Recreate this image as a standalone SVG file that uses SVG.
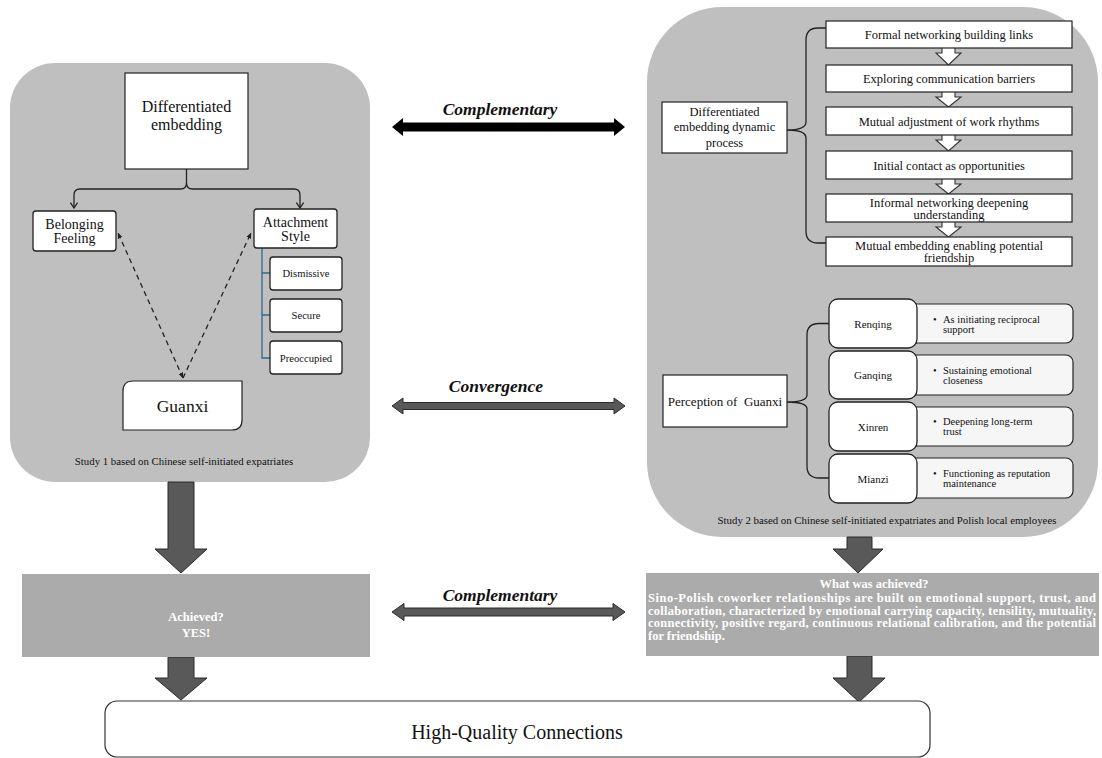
<svg xmlns="http://www.w3.org/2000/svg" width="1102" height="758" viewBox="0 0 1102 758">
<defs>
<style>
text{font-family:"Liberation Serif","Times New Roman",serif;fill:#111}
.panel{fill:#bfbfbf}
.box{fill:#fff;stroke:#222;stroke-width:1.2}
.rbox{fill:#fff;stroke:#222;stroke-width:1.3}
.desc{fill:#f6f6f6;stroke:#222;stroke-width:1.2}
.ln{fill:none;stroke:#222;stroke-width:1.3}
.dash{fill:none;stroke:#222;stroke-width:1.3;stroke-dasharray:5 4}
.blk{fill:#595959;stroke:#2a2a2a;stroke-width:1}
.hol{fill:#fff;stroke:#333;stroke-width:1.1}
.ach{fill:#ababab}
.wt{fill:#fff;font-weight:bold;font-size:12.5px}
.lbl{font-weight:bold;font-style:italic;font-size:17.5px}
.c{text-anchor:middle}
</style>
<marker id="ah" viewBox="0 0 10 10" refX="9" refY="5" markerWidth="6" markerHeight="6" orient="auto-start-reverse" markerUnits="userSpaceOnUse">
<path d="M0,1 L10,5 L0,9 Z" fill="#222"/>
</marker>
<marker id="ov" viewBox="0 0 10 10" refX="5" refY="9" markerWidth="9" markerHeight="9" orient="0" markerUnits="userSpaceOnUse">
<path d="M1,3 L5,9 L9,3" fill="none" stroke="#222" stroke-width="1.4"/>
</marker>
</defs>
<rect width="1102" height="758" fill="#fff"/>

<g id="study1-panel">
<rect class="panel" x="10" y="63" width="360" height="419" rx="45"/>
<text class="c" x="184" y="465" font-size="10.8">Study 1 based on Chinese self-initiated expatriates</text>
</g>
<g id="study2-panel">
<rect class="panel" x="647" y="7" width="451" height="530" rx="75"/>
<text class="c" x="887" y="524" font-size="10.8">Study 2 based on Chinese self-initiated expatriates and Polish local employees</text>
</g>

<g id="connectors">
<path class="ln" d="M186.5,169 V183 Q186.5,189 180.5,189 H80 Q74,189 74,195 V208" marker-end="url(#ov)"/>
<path class="ln" d="M186.5,183 Q186.5,189 192.5,189 H294 Q300,189 300,195 V208" marker-end="url(#ov)"/>
<path class="dash" d="M183,378 L118,233" marker-start="url(#ah)" marker-end="url(#ah)"/>
<path class="dash" d="M183,378 L251,233" marker-end="url(#ah)"/>
<path fill="none" stroke="#2f6a8a" stroke-width="1.3" d="M262,248 V358 H270 M262,273 H270 M262,315 H270"/>
<path class="ln" d="M826,28 H818 Q806,28 806,40 V122 Q806,130 787,130 Q806,130 806,138 V231 Q806,243 818,243 H826"/>
<path class="ln" d="M829,323.5 H819 Q807,323.5 807,335 V395 Q807,402 787,402 Q807,402 807,409 V466 Q807,478 819,478 H829"/>
<path class="hol" d="M942,46 H955 V53 H961 L948.5,65 L936,53 H942 Z"/>
<path class="hol" d="M942,90 H955 V97 H961 L948.5,107 L936,97 H942 Z"/>
<path class="hol" d="M942,133 H955 V140 H961 L948.5,151 L936,140 H942 Z"/>
<path class="hol" d="M942,177 H955 V184 H961 L948.5,194 L936,184 H942 Z"/>
<path class="hol" d="M942,220 H955 V227 H961 L948.5,237 L936,227 H942 Z"/>
<polygon fill="#000" points="392,127 403,118 403,122.5 614,122.5 614,118 625,127 614,136 614,131.5 403,131.5 403,136"/>
<polygon class="blk" points="392,406 403,398 403,402.5 614,402.5 614,398 625,406 614,414 614,409.5 403,409.5 403,414"/>
<polygon class="blk" points="392,612 404,603.5 404,608 613,608 613,603.5 625,612 613,620.5 613,616 404,616 404,620.5"/>
<polygon class="blk" points="168,482 194,482 194,549 207,549 181,573 155,549 168,549"/>
<polygon class="blk" points="847,537 872,537 872,549 883,549 858,573 833,549 847,549"/>
<polygon class="blk" points="168,657 194,657 194,678 207,678 181,700 155,678 168,678"/>
<polygon class="blk" points="847,656 872,656 872,678 885,678 859,702 833,678 847,678"/>
<text class="c lbl" x="500" y="115">Complementary</text>
<text class="c lbl" x="496" y="392">Convergence</text>
<text class="c lbl" x="500" y="601">Complementary</text>
</g>

<g id="diff-embedding">
<rect class="box" x="125" y="73" width="123" height="96"/>
<text class="c" x="186.5" y="112" font-size="16">Differentiated</text>
<text class="c" x="186.5" y="130" font-size="16">embedding</text>
</g>
<g id="belonging">
<rect class="rbox" x="33" y="211" width="83" height="40" rx="3"/>
<text class="c" x="74.5" y="229" font-size="14">Belonging</text>
<text class="c" x="74.5" y="243" font-size="14">Feeling</text>
</g>
<g id="attachment">
<rect class="rbox" x="254" y="209" width="83" height="39" rx="3"/>
<text class="c" x="295.5" y="227" font-size="14">Attachment</text>
<text class="c" x="295.5" y="241" font-size="14">Style</text>
</g>
<g id="dismissive">
<rect class="rbox" x="270" y="257" width="72" height="33" rx="3"/>
<text class="c" x="306" y="277" font-size="10.6">Dismissive</text>
</g>
<g id="secure">
<rect class="rbox" x="270" y="299" width="72" height="33" rx="3"/>
<text class="c" x="306" y="319" font-size="10.6">Secure</text>
</g>
<g id="preoccupied">
<rect class="rbox" x="270" y="341" width="72" height="33" rx="3"/>
<text class="c" x="306" y="361.5" font-size="10.6">Preoccupied</text>
</g>
<g id="guanxi">
<path class="box" d="M133,381 H242 V420 Q242,430 232,430 H123 V391 Q123,381 133,381 Z"/>
<text class="c" x="182.5" y="412" font-size="17.5">Guanxi</text>
</g>

<g id="dyn-process">
<rect class="box" x="662" y="102" width="125" height="51"/>
<text class="c" x="724.5" y="116" font-size="12.5">Differentiated</text>
<text class="c" x="724.5" y="131" font-size="12.5">embedding dynamic</text>
<text class="c" x="724.5" y="147" font-size="12.5">process</text>
</g>
<g id="step1"><rect class="box" x="826" y="21" width="246" height="27"/><text class="c" x="949" y="39" font-size="12.5">Formal networking building links</text></g>
<g id="step2"><rect class="box" x="826" y="65" width="246" height="27"/><text class="c" x="949" y="83" font-size="12.5">Exploring communication barriers</text></g>
<g id="step3"><rect class="box" x="826" y="107" width="246" height="28"/><text class="c" x="949" y="125.5" font-size="12.5">Mutual adjustment of work rhythms</text></g>
<g id="step4"><rect class="box" x="826" y="151" width="246" height="28"/><text class="c" x="949" y="169.5" font-size="12.5">Initial contact as opportunities</text></g>
<g id="step5"><rect class="box" x="826" y="194" width="246" height="28"/><text class="c" x="949" y="206.5" font-size="12.5">Informal networking deepening</text><text class="c" x="949" y="218.5" font-size="12.5">understanding</text></g>
<g id="step6"><rect class="box" x="826" y="237" width="246" height="29"/><text class="c" x="949" y="249.5" font-size="12.5">Mutual embedding enabling potential</text><text class="c" x="949" y="261.5" font-size="12.5">friendship</text></g>

<g id="perception">
<rect class="box" x="663" y="375" width="124" height="52"/>
<text class="c" x="725" y="405.5" font-size="13" style="white-space:pre">Perception of  Guanxi</text>
</g>
<g id="renqing">
<rect class="desc" x="905" y="304" width="168" height="39" rx="7"/>
<rect class="rbox" x="829" y="299" width="88" height="49" rx="9"/>
<text class="c" x="873" y="327.5" font-size="11">Renqing</text>
<text x="933" y="322.5" font-size="10.5">•</text><text x="943" y="322.5" font-size="10.5">As initiating reciprocal</text>
<text x="943" y="333" font-size="10.5">support</text>
</g>
<g id="ganqing">
<rect class="desc" x="905" y="355" width="168" height="40" rx="7"/>
<rect class="rbox" x="829" y="351" width="88" height="48" rx="9"/>
<text class="c" x="873" y="379" font-size="11">Ganqing</text>
<text x="933" y="373.5" font-size="10.5">•</text><text x="943" y="373.5" font-size="10.5">Sustaining emotional</text>
<text x="943" y="384" font-size="10.5">closeness</text>
</g>
<g id="xinren">
<rect class="desc" x="905" y="407" width="168" height="39" rx="7"/>
<rect class="rbox" x="829" y="402" width="88" height="49" rx="9"/>
<text class="c" x="873" y="430.5" font-size="11">Xinren</text>
<text x="933" y="424.5" font-size="10.5">•</text><text x="943" y="424.5" font-size="10.5">Deepening long-term</text>
<text x="943" y="435" font-size="10.5">trust</text>
</g>
<g id="mianzi">
<rect class="desc" x="905" y="458" width="168" height="40" rx="7"/>
<rect class="rbox" x="829" y="454" width="88" height="49" rx="9"/>
<text class="c" x="873" y="482.5" font-size="11">Mianzi</text>
<text x="933" y="476.5" font-size="10.5">•</text><text x="943" y="476.5" font-size="10.5">Functioning as reputation</text>
<text x="943" y="487" font-size="10.5">maintenance</text>
</g>

<g id="achieved-left">
<rect class="ach" x="22" y="574" width="348" height="83"/>
<text class="c wt" x="196" y="621">Achieved?</text>
<text class="c wt" x="196" y="637">YES!</text>
</g>
<g id="achieved-right">
<rect class="ach" x="646" y="573" width="453" height="83"/>
<text class="c wt" x="874" y="587.5">What was achieved?</text>
<text class="wt" x="648" y="602" textLength="448" lengthAdjust="spacing">Sino-Polish coworker relationships are built on emotional support, trust, and</text>
<text class="wt" x="648" y="614.5" textLength="448" lengthAdjust="spacing">collaboration, characterized by emotional carrying capacity, tensility, mutuality,</text>
<text class="wt" x="648" y="627" textLength="448" lengthAdjust="spacing">connectivity, positive regard, continuous relational calibration, and the potential</text>
<text class="wt" x="648" y="639.5">for friendship.</text>
</g>

<g id="hqc">
<rect x="105" y="701" width="825" height="56" rx="12" fill="#fff" stroke="#333" stroke-width="1.2"/>
<text class="c" x="517" y="739" font-size="20">High-Quality Connections</text>
</g>
</svg>
